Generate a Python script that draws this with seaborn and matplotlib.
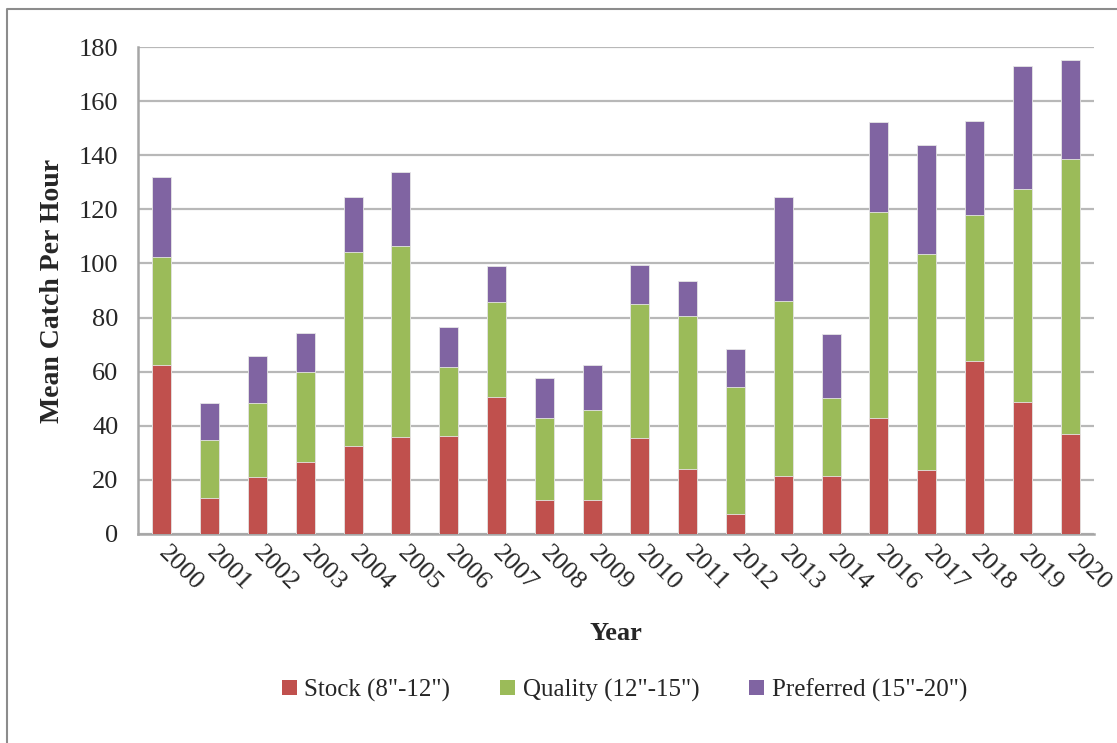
import numpy as np
import pandas as pd
import seaborn as sns
from matplotlib import pyplot as plt
from matplotlib.lines import Line2D
from matplotlib.patches import Patch

years = ["2000", "2001", "2002", "2003", "2004", "2005", "2006", "2007", "2008", "2009",
         "2010", "2011", "2012", "2013", "2014", "2016", "2017", "2018", "2019", "2020"]
stock = [62.4, 13.2, 21.0, 26.5, 32.4, 35.8, 36.4, 50.6, 12.4, 12.4,
         35.4, 23.9, 7.3, 21.3, 21.3, 42.8, 23.8, 63.9, 48.7, 36.9]
quality = [40.1, 21.4, 27.5, 33.2, 72.0, 70.7, 25.4, 35.1, 30.6, 33.4,
           49.5, 56.6, 47.1, 64.7, 29.1, 76.2, 79.6, 54.0, 78.8, 101.7]
preferred = [29.5, 13.9, 17.3, 14.7, 20.2, 27.4, 14.6, 13.3, 14.8, 16.5,
             14.5, 12.9, 14.1, 38.4, 23.7, 33.1, 40.2, 34.7, 45.6, 36.5]

series_names = ['Stock (8"-12")', 'Quality (12"-15")', 'Preferred (15"-20")']
colors = ["#C0504D", "#9BBB59", "#8064A2"]

df = pd.DataFrame({"year": years, "stock": stock, "quality": quality, "preferred": preferred})
df["sq"] = df["stock"] + df["quality"]
df["total"] = df["sq"] + df["preferred"]

sns.set_style("white")
plt.rcParams["font.family"] = ["Liberation Serif", "DejaVu Serif"]

fig = plt.figure(figsize=(11.17, 7.43), dpi=100)
ax = fig.add_axes([138 / 1117, 1 - 534 / 743, (1094 - 138) / 1117, (534 - 47) / 743])

# stacked bars: draw cumulative totals from the top layer down
for col, color in zip(["total", "sq", "stock"], colors[::-1]):
    sns.barplot(data=df, x="year", y=col, color=color, width=0.4,
                edgecolor="#e6e6e6", linewidth=0.6, saturation=1, ax=ax, zorder=3)

ax.set_ylim(0, 180)
ax.set_xlim(-0.5, len(years) - 0.5)
ax.set_yticks(np.arange(0, 181, 20))
ax.grid(axis="y", color="#b8b8b8", linewidth=1.6, zorder=0)
ax.set_axisbelow(True)

for side in ["top", "right"]:
    ax.spines[side].set_visible(False)
for side in ["left", "bottom"]:
    ax.spines[side].set_color("#a6a6a6")
    ax.spines[side].set_linewidth(1.8)

ax.set_xticks(np.arange(-0.5, len(years), 1), minor=True)
ax.tick_params(axis="x", which="major", length=0, pad=11)
ax.tick_params(axis="x", which="minor", length=7, width=1.5, color="#a6a6a6", direction="out")
ax.tick_params(axis="y", length=6, width=1.5, color="#a6a6a6", labelsize=19, pad=8)

ax.set_xticks(range(len(years)))
ax.set_xticklabels(years, rotation=-45, ha="left", va="center",
                   rotation_mode="anchor", fontsize=19)

ax.set_xlabel("Year", fontsize=19, fontweight="bold", labelpad=20)
ax.set_ylabel("Mean Catch Per Hour", fontsize=20, fontweight="bold", labelpad=10)

handles = [Patch(facecolor=c, edgecolor="none") for c in colors]
fig.legend(handles, series_names, loc="center", bbox_to_anchor=(0.559, 1 - 690 / 743),
           ncol=3, frameon=False, fontsize=18, handlelength=0.6, handleheight=0.6,
           handletextpad=0.3, columnspacing=2.0)

# outer chart frame (left and top edges visible)
fig.add_artist(Line2D([7 / 1117, 7 / 1117, 1.0], [0.0, 1 - 9 / 743, 1 - 9 / 743],
                      transform=fig.transFigure, color="#8c8c8c", linewidth=1.5))

fig.savefig("out.png", dpi=100)
